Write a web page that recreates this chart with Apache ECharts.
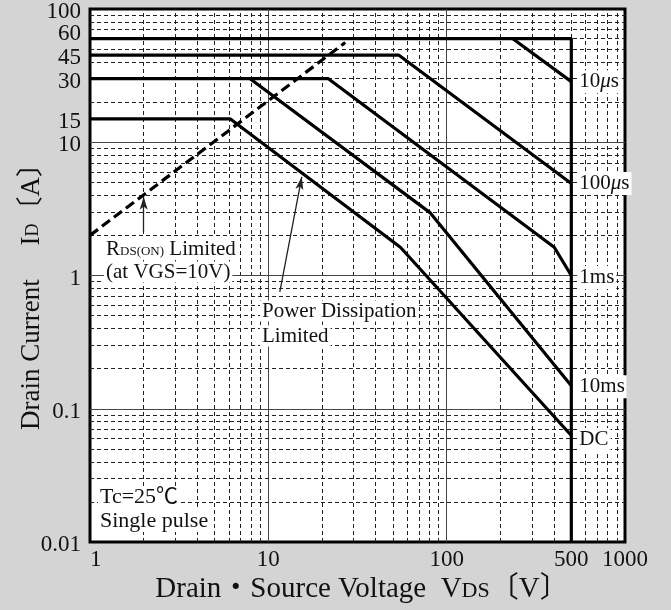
<!DOCTYPE html>
<html>
<head>
<meta charset="utf-8">
<script src="https://cdn.jsdelivr.net/npm/echarts@6/dist/echarts.min.js"></script>
<style>
html,body{margin:0;padding:0;background:#d4d4d4;}
#c{width:671px;height:610px;}
</style>
</head>
<body>
<div id="c"></div>
<script>
// ---- data (V, A) ----
const boundary = [[1, 60], [500, 60], [500, 0.01]];
const curve10us = [[234, 60], [500, 28.5]];
const curve100us = [[1, 45], [54, 45], [500, 4.9]];
const curve1ms = [[1, 30], [21.7, 30], [401, 1.63], [500, 1.0]];
const curve10ms = [[7.9, 30], [81, 2.95], [500, 0.149]];
const curveDC = [[1, 15], [6.1, 15], [55, 1.63], [500, 0.063]];
const rdsLimit = [[1, 2.0], [27, 56]];

// ---- axis ticks ----
const xTickValues = [1, 10, 100, 500, 1000];
const xTickLabels = ['1', '10', '100', '500', '1000'];
const yTickValues = [0.01, 0.1, 1, 10, 15, 30, 45, 100];
const yTickLabels = ['0.01', '0.1', '1', '10', '15', '30', '45', '100'];
const yTickValuesUpper = [60];
const yTickLabelsUpper = ['60'];

// ---- grid lines ----
const xGridMajor = [10, 100];
const xGridMinor = [2, 3, 4, 5, 6, 7, 8, 9, 20, 30, 40, 50, 60, 70, 80, 90, 200, 300, 400, 500, 600, 700, 800, 900];
const yGridMajor = [0.1, 1, 10];
const yGridMinor = [0.02, 0.03, 0.04, 0.05, 0.06, 0.07, 0.08, 0.09,
  0.2, 0.3, 0.4, 0.5, 0.6, 0.7, 0.8, 0.9,
  2, 3, 4, 5, 6, 7, 8, 9,
  20, 30, 40, 50, 60, 70, 80, 90];

// arrows (data coords)
const arrowRds = [[2.0, 2.12], [2.0, 3.9]];
const arrowPd = [[11.6, 0.755], [15.4, 5.5]];

const SERIF = '"Liberation Serif", "Times New Roman", "Noto Sans CJK JP", serif';
const INK = '#111';

function lookup(vals, labels, v) {
  let best = 0, bd = Infinity;
  vals.forEach((t, i) => { const d = Math.abs(Math.log10(t) - Math.log10(v)); if (d < bd) { bd = d; best = i; } });
  return labels[best];
}

const gridLineData = []
  .concat(xGridMinor.map(v => ({ xAxis: v, lineStyle: { type: [4, 3], width: 1, color: '#222' } })))
  .concat(xGridMajor.map(v => ({ xAxis: v, lineStyle: { type: 'solid', width: 1, color: '#444' } })))
  .concat(yGridMinor.map(v => ({ yAxis: v, lineStyle: { type: [4, 3], width: 1, color: '#222' } })))
  .concat(yGridMajor.map(v => ({ yAxis: v, lineStyle: { type: 'solid', width: 1, color: '#444' } })));

function curve(name, data, label, offset) {
  const s = {
    name: name, type: 'line', data: data, showSymbol: false, symbol: 'none', z: 10,
    lineStyle: { color: '#000', width: 3.2 }, silent: true
  };
  if (label) {
    s.endLabel = {
      show: true, formatter: label, distance: 6, color: INK, offset: offset || [0, 0],
      fontFamily: SERIF, fontSize: 21, backgroundColor: '#fff', padding: [1, 2],
      rich: {
        n: { fontFamily: SERIF, fontSize: 21, color: INK },
        i: { fontFamily: SERIF, fontSize: 21, color: INK, fontStyle: 'italic' }
      }
    };
  }
  return s;
}

const yAxisBase = {
  type: 'log', logBase: 10, min: 0.01, max: 100, position: 'left', offset: 0,
  axisLine: { show: false }, axisTick: { show: false }, splitLine: { show: false }
};

const chart = echarts.init(document.getElementById('c'), null, { renderer: 'canvas' });
chart.setOption({
  animation: false,
  backgroundColor: '#d4d4d4',
  grid: { left: 90, right: 46, top: 9, bottom: 68, outerBoundsMode: 'none', show: true, backgroundColor: '#fff', borderColor: '#000', borderWidth: 3 },
  xAxis: {
    type: 'log', logBase: 10, min: 1, max: 1000,
    axisLine: { show: false }, axisTick: { show: false }, splitLine: { show: false },
    axisLabel: {
      customValues: xTickValues, margin: 6, color: INK, fontFamily: SERIF, fontSize: 23,
      alignMinLabel: 'left', showMinLabel: true, showMaxLabel: true,
      formatter: v => lookup(xTickValues, xTickLabels, v)
    }
  },
  yAxis: [
    Object.assign({}, yAxisBase, {
      axisLabel: {
        customValues: yTickValues, margin: 9, color: INK, fontFamily: SERIF, fontSize: 23,
        showMinLabel: true, showMaxLabel: true,
        formatter: v => '{d|' + lookup(yTickValues, yTickLabels, v) + '}',
        rich: { d: { fontFamily: SERIF, fontSize: 23, color: INK, padding: [6, 0, 0, 0] } }
      }
    }),
    Object.assign({}, yAxisBase, {
      axisLabel: {
        customValues: yTickValuesUpper, margin: 9, color: INK, fontFamily: SERIF, fontSize: 23,
        showMinLabel: true, showMaxLabel: true,
        formatter: v => '{u|' + lookup(yTickValuesUpper, yTickLabelsUpper, v) + '}',
        rich: { u: { fontFamily: SERIF, fontSize: 23, color: INK, padding: [0, 0, 10, 0] } }
      }
    })
  ],
  series: [
    {
      type: 'line', data: [[1, 0.01]], showSymbol: false, symbol: 'none', silent: true, z: 1,
      lineStyle: { width: 0 },
      markLine: { silent: true, z: 1, symbol: ['none', 'none'], label: { show: false }, animation: false, data: gridLineData }
    },
    curve('boundary', boundary),
    curve('10us', curve10us, '{n|10}{i|μ}{n|s}'),
    curve('100us', curve100us, '{n|100}{i|μ}{n|s}'),
    curve('1ms', curve1ms, '1ms', [0, 2]),
    curve('10ms', curve10ms, '10ms', [0, 1]),
    curve('DC', curveDC, 'DC', [0, 4]),
    {
      name: 'rds', type: 'line', data: rdsLimit, showSymbol: false, symbol: 'none', z: 10, silent: true,
      lineStyle: { color: '#000', width: 3.2, type: [10, 5] }
    },
    {
      type: 'line', data: [[1, 0.01]], showSymbol: false, symbol: 'none', silent: true, z: 12,
      lineStyle: { width: 0 },
      markLine: {
        silent: true, z: 12, symbol: ['none', 'arrow'], symbolSize: [6, 13], label: { show: false }, animation: false,
        lineStyle: { color: '#222', width: 1.3, type: 'solid' },
        data: [
          [{ coord: arrowRds[0] }, { coord: arrowRds[1] }],
          [{ coord: arrowPd[0] }, { coord: arrowPd[1] }]
        ]
      }
    }
  ],
  graphic: [
    {
      type: 'text', x: 104, y: 248, z: 50,
      style: {
        text: '{n|R}{s|DS(ON)}{n| Limited}', textVerticalAlign: 'middle', backgroundColor: '#fff', padding: [0, 2],
        rich: {
          n: { font: '21px ' + SERIF, fill: INK, verticalAlign: 'bottom', lineHeight: 24 },
          s: { font: '13px ' + SERIF, fill: INK, verticalAlign: 'bottom', lineHeight: 24, padding: [0, 0, 2, 0] }
        }
      }
    },
    { type: 'text', x: 104, y: 272, z: 50, style: { text: '(at VGS=10V)', font: '21px ' + SERIF, fill: INK, textVerticalAlign: 'middle', backgroundColor: '#fff', padding: [0, 2] } },
    { type: 'text', x: 260, y: 311, z: 50, style: { text: 'Power Dissipation', font: '21px ' + SERIF, fill: INK, textVerticalAlign: 'middle', backgroundColor: '#fff', padding: [0, 2] } },
    { type: 'text', x: 260, y: 336, z: 50, style: { text: 'Limited', font: '21px ' + SERIF, fill: INK, textVerticalAlign: 'middle', backgroundColor: '#fff', padding: [0, 2] } },
    { type: 'text', x: 98, y: 497, z: 50, style: { text: 'Tc=25℃', font: '22px ' + SERIF, fill: INK, textVerticalAlign: 'middle', backgroundColor: '#fff', padding: [0, 2] } },
    { type: 'text', x: 98, y: 521, z: 50, style: { text: 'Single pulse', font: '22px ' + SERIF, fill: INK, textVerticalAlign: 'middle', backgroundColor: '#fff', padding: [0, 2] } },
    {
      type: 'text', x: 362, y: 588, z: 50,
      style: {
        text: '{n|Drain・Source Voltage  V}{s|DS}{n|〔V〕}', textAlign: 'center', textVerticalAlign: 'middle',
        rich: {
          n: { font: '29px ' + SERIF, fill: INK, verticalAlign: 'bottom', lineHeight: 32 },
          s: { font: '22px ' + SERIF, fill: INK, verticalAlign: 'bottom', lineHeight: 32, padding: [0, 0, 2, 0] }
        }
      }
    },
    {
      type: 'text', x: 30, y: 290, rotation: Math.PI / 2, z: 50,
      style: {
        text: '{n|Drain Current　 I}{s|D}{n|〔A〕}', textAlign: 'center', textVerticalAlign: 'middle',
        rich: {
          n: { font: '27px ' + SERIF, fill: INK, verticalAlign: 'bottom', lineHeight: 30 },
          s: { font: '18px ' + SERIF, fill: INK, verticalAlign: 'bottom', lineHeight: 30, padding: [0, 0, 3, 0] }
        }
      }
    }
  ]
});
</script>
</body>
</html>
